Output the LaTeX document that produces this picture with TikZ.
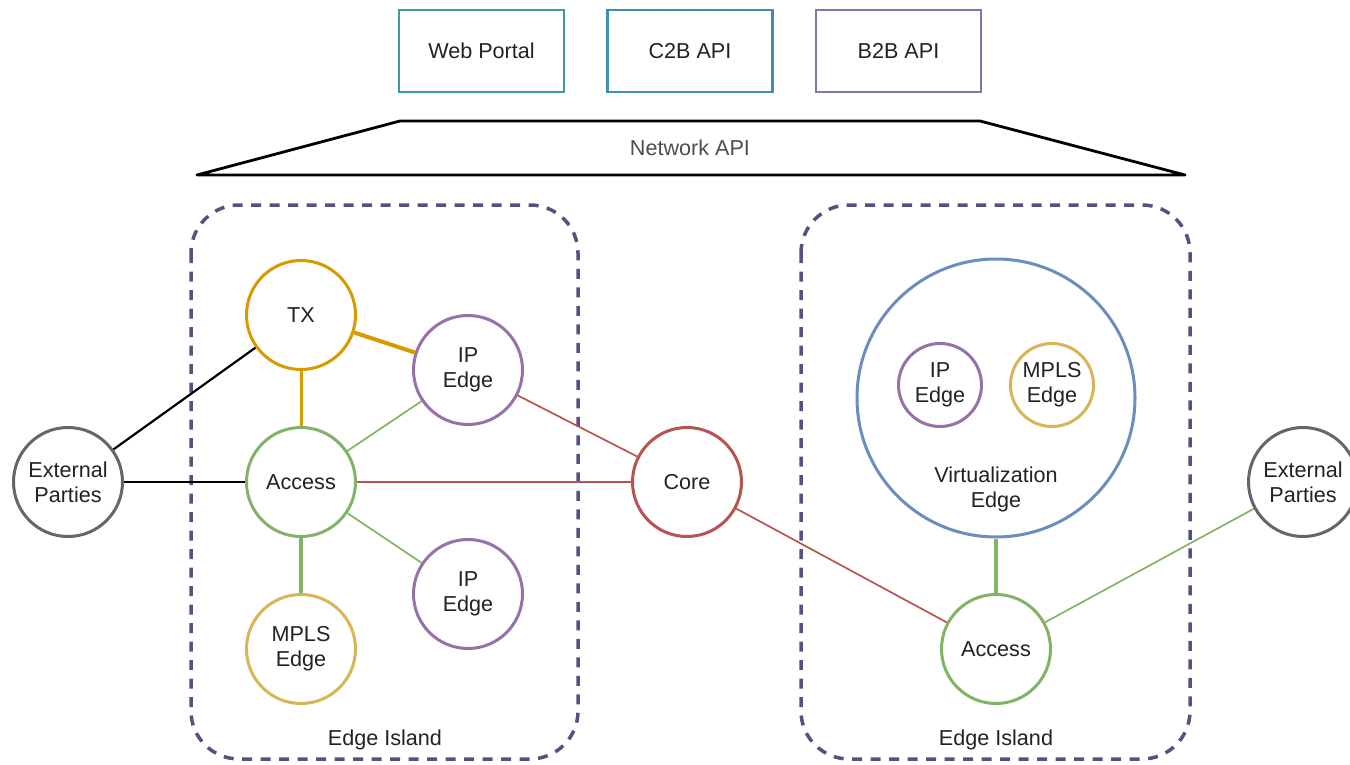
\documentclass[tikz,border=0pt]{standalone}
\usepackage{fontspec}
\setmainfont{Liberation Sans}
\usetikzlibrary{shapes.geometric}
\definecolor{txtc}{HTML}{222222}
\definecolor{netc}{HTML}{4D4D4D}
\definecolor{webc}{HTML}{3D9C9C}
\definecolor{ctobc}{HTML}{3F8FAE}
\definecolor{btobc}{HTML}{8079A8}
\definecolor{islandc}{HTML}{56517E}
\definecolor{orangec}{HTML}{D79B00}
\definecolor{purplec}{HTML}{9673A6}
\definecolor{greenc}{HTML}{82B366}
\definecolor{goldc}{HTML}{D6B656}
\definecolor{redc}{HTML}{B85450}
\definecolor{bluec}{HTML}{6C8EBF}
\definecolor{grayc}{HTML}{666666}
\begin{document}
\begin{tikzpicture}[x=1pt,y=-1pt,
  every node/.style={font=\fontsize{21.6}{25}\selectfont, text=txtc, align=center},
  apibox/.style={draw, line width=2.5pt, minimum width=165pt, minimum height=82pt, inner sep=0pt},
  nd/.style={circle, draw, line width=3pt, minimum size=109pt, inner sep=0pt, fill=white},
  smallnd/.style={circle, draw, line width=3pt, minimum size=83pt, inner sep=0pt, fill=white},
  island/.style={draw=islandc, line width=3.5pt, dash pattern=on 10pt off 8.5pt, rounded corners=48pt},
  thinln/.style={line width=1.7pt},
  thickln/.style={line width=4pt}]
\useasboundingbox (0,0) rectangle (1350,765);

% top boxes
\node[apibox, draw=webc] (web) at (481.5,51) {Web Portal};
\node[apibox, draw=ctobc] (c2b) at (690,51) {C2B API};
\node[apibox, draw=btobc] (b2b) at (898.5,51) {B2B API};

% network API trapezoid
\draw[line width=2.8pt, line join=round] (400,121) -- (980,121) -- (1185,175) -- (197,175) -- cycle;
\node[text=netc] (netapi) at (690,148) {Network API};

% islands
\draw[island] (191,205) rectangle (578,759);
\draw[island] (801,205) rectangle (1190,759);
\node (isl1) at (385,740) {Edge Island};
\node (isl2) at (996,740) {Edge Island};

% nodes
\node[nd, draw=grayc] (extl) at (68,482) {External\\Parties};
\node[nd, draw=orangec] (tx) at (301,315) {TX};
\node[nd, draw=purplec] (ip1) at (468,370) {IP\\Edge};
\node[nd, draw=greenc] (accl) at (301,482) {Access};
\node[nd, draw=purplec] (ip2) at (468,594) {IP\\Edge};
\node[nd, draw=goldc] (mplsl) at (301,649) {MPLS\\Edge};
\node[nd, draw=redc] (core) at (687,482) {Core};
\node[circle, draw=bluec, line width=3pt, minimum size=278pt, inner sep=0pt, fill=white] (virt) at (996,398) {};
\node (virtlbl) at (996,489) {Virtualization\\Edge};
\node[smallnd, draw=purplec] (ip3) at (940,385) {IP\\Edge};
\node[smallnd, draw=goldc] (mpls2) at (1052,385) {MPLS\\Edge};
\node[nd, draw=greenc] (accr) at (996,649) {Access};
\node[nd, draw=grayc] (extr) at (1303,482) {External\\Parties};

% connectors
\draw[line width=2.2pt, black] (extl) -- (tx);
\draw[line width=2.2pt, black] (extl) -- (accl);
\draw[thickln, orangec] (tx) -- (ip1);
\draw[line width=3pt, orangec] (tx) -- (accl);
\draw[thinln, greenc] (accl) -- (ip1);
\draw[thinln, greenc] (accl) -- (ip2);
\draw[thickln, greenc] (accl) -- (mplsl);
\draw[thinln, redc] (accl) -- (core);
\draw[thinln, redc] (ip1) -- (core);
\draw[thinln, redc] (core) -- (accr);
\draw[thickln, greenc] (virt) -- (accr);
\draw[thinln, greenc] (accr) -- (extr);
\end{tikzpicture}
\end{document}
